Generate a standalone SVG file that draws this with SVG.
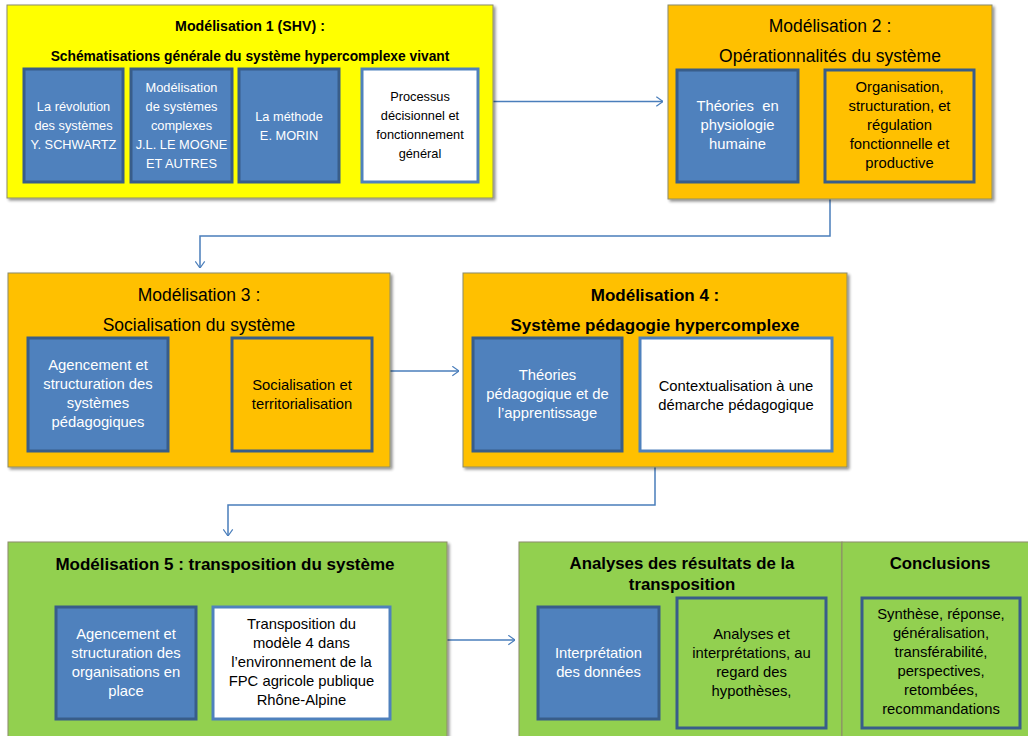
<svg xmlns="http://www.w3.org/2000/svg" width="1028" height="736" viewBox="0 0 1028 736">
<defs>
<marker id="arr" viewBox="0 0 10 14" refX="9.5" refY="7" markerWidth="8" markerHeight="11" markerUnits="userSpaceOnUse" orient="auto">
<path d="M1,1 L9.5,7 L1,13" fill="none" stroke="#4A7EBB" stroke-width="1.5"/>
</marker>
<filter id="sh" x="-5%" y="-5%" width="112%" height="112%">
<feGaussianBlur in="SourceAlpha" stdDeviation="1.5"/>
<feOffset dx="2" dy="2" result="b"/>
<feComponentTransfer><feFuncA type="linear" slope="0.45"/></feComponentTransfer>
<feMerge><feMergeNode/><feMergeNode in="SourceGraphic"/></feMerge>
</filter>
</defs>
<style>
text{font-family:"Liberation Sans",Arial,sans-serif;text-anchor:middle;fill:#000}
.outer{stroke:#8c8c6a;stroke-width:1;filter:url(#sh)}
.yel{fill:#FFFF00}
.org{fill:#FFC000}
.grn{fill:#92D050}
.blue{fill:#4F81BD;stroke:#385D8A;stroke-width:3}
.white{fill:#FFFFFF;stroke:#4F81BD;stroke-width:3}
.oin{fill:#FFC000;stroke:#385D8A;stroke-width:3}
.gin{fill:#92D050;stroke:#385D8A;stroke-width:3}
.wt{fill:#FFFFFF}
.s12{font-size:12.8px}
.s15{font-size:14.8px}
.tb{font-weight:bold}
.conn{fill:none;stroke:#4A7EBB;stroke-width:1.5}
</style>

<g id="connectors">
<path class="conn" d="M493,101.5 H663" marker-end="url(#arr)"/>
<path class="conn" d="M830,199 V236 H200 V268" marker-end="url(#arr)"/>
<path class="conn" d="M390,371 H459" marker-end="url(#arr)"/>
<path class="conn" d="M655,467 V505 H228 V536" marker-end="url(#arr)"/>
<path class="conn" d="M447,640 H515" marker-end="url(#arr)"/>
</g>

<g id="m1">
<rect class="outer yel" x="7" y="5" width="486" height="193"/>
<text class="tb" x="250" y="31" font-size="14.2">Modélisation 1 (SHV) :</text>
<text class="tb" x="250" y="61" font-size="13.8">Schématisations générale du système hypercomplexe vivant</text>
</g>
<g id="m1-revolution">
<rect class="blue" x="24" y="69" width="99" height="113"/>
<text class="s12 wt" x="73.5" y="111">La révolution</text>
<text class="s12 wt" x="73.5" y="130">des systèmes</text>
<text class="s12 wt" x="73.5" y="149">Y. SCHWARTZ</text>
</g>
<g id="m1-complexes">
<rect class="blue" x="131" y="69" width="101" height="113"/>
<text class="s12 wt" x="181.5" y="92">Modélisation</text>
<text class="s12 wt" x="181.5" y="111">de systèmes</text>
<text class="s12 wt" x="181.5" y="130">complexes</text>
<text class="s12 wt" x="181.5" y="149">J.L. LE MOGNE</text>
<text class="s12 wt" x="181.5" y="168">ET AUTRES</text>
</g>
<g id="m1-morin">
<rect class="blue" x="239" y="69" width="100" height="113"/>
<text class="s12 wt" x="289" y="121">La méthode</text>
<text class="s12 wt" x="289" y="140">E. MORIN</text>
</g>
<g id="m1-processus">
<rect class="white" x="362" y="69" width="116" height="113"/>
<text class="s12" x="420" y="101">Processus</text>
<text class="s12" x="420" y="120">décisionnel et</text>
<text class="s12" x="420" y="139">fonctionnement</text>
<text class="s12" x="420" y="158">général</text>
</g>

<g id="m2">
<rect class="outer org" x="668" y="5" width="324" height="194"/>
<text x="830" y="32" font-size="17.5">Modélisation 2 :</text>
<text x="830" y="62" font-size="17.5">Opérationnalités du système</text>
</g>
<g id="m2-theories">
<rect class="blue" x="677" y="70" width="121" height="112"/>
<text class="s15 wt" x="737.5" y="111">Théories &#160;en</text>
<text class="s15 wt" x="737.5" y="130">physiologie</text>
<text class="s15 wt" x="737.5" y="149">humaine</text>
</g>
<g id="m2-organisation">
<rect class="oin" x="825" y="70" width="149" height="112"/>
<text class="s15" x="899.5" y="92">Organisation,</text>
<text class="s15" x="899.5" y="111">structuration, et</text>
<text class="s15" x="899.5" y="130">régulation</text>
<text class="s15" x="899.5" y="149">fonctionnelle et</text>
<text class="s15" x="899.5" y="168">productive</text>
</g>

<g id="m3">
<rect class="outer org" x="8" y="273" width="382" height="194"/>
<text x="199" y="301" font-size="17.5">Modélisation 3 :</text>
<text x="199" y="331" font-size="17.5">Socialisation du système</text>
</g>
<g id="m3-agencement">
<rect class="blue" x="28" y="338" width="140" height="113"/>
<text class="s15 wt" x="98" y="370">Agencement et</text>
<text class="s15 wt" x="98" y="389">structuration des</text>
<text class="s15 wt" x="98" y="408">systèmes</text>
<text class="s15 wt" x="98" y="427">pédagogiques</text>
</g>
<g id="m3-socialisation">
<rect class="oin" x="232" y="338" width="140" height="113"/>
<text class="s15" x="302" y="390">Socialisation et</text>
<text class="s15" x="302" y="409">territorialisation</text>
</g>

<g id="m4">
<rect class="outer org" x="463" y="273" width="384" height="194"/>
<text class="tb" x="655" y="301" font-size="17">Modélisation 4 :</text>
<text class="tb" x="655" y="331" font-size="17">Système pédagogie hypercomplexe</text>
</g>
<g id="m4-theories">
<rect class="blue" x="473" y="338" width="149" height="113"/>
<text class="s15 wt" x="547.5" y="380">Théories</text>
<text class="s15 wt" x="547.5" y="399">pédagogique et de</text>
<text class="s15 wt" x="547.5" y="418">l’apprentissage</text>
</g>
<g id="m4-contextualisation">
<rect class="white" x="640" y="338" width="192" height="113"/>
<text class="s15" x="736" y="391">Contextualisation à une</text>
<text class="s15" x="736" y="410">démarche pédagogique</text>
</g>

<g id="m5">
<rect class="outer grn" x="8" y="542" width="439" height="200"/>
<text class="tb" x="225" y="570" font-size="17">Modélisation 5 : transposition du système</text>
</g>
<g id="m5-agencement">
<rect class="blue" x="56" y="607" width="140" height="112"/>
<text class="s15 wt" x="126" y="639">Agencement et</text>
<text class="s15 wt" x="126" y="658">structuration des</text>
<text class="s15 wt" x="126" y="677">organisations en</text>
<text class="s15 wt" x="126" y="696">place</text>
</g>
<g id="m5-transposition">
<rect class="white" x="213" y="607" width="177" height="112"/>
<text class="s15" x="301.5" y="629">Transposition du</text>
<text class="s15" x="301.5" y="648">modèle 4 dans</text>
<text class="s15" x="301.5" y="667">l’environnement de la</text>
<text class="s15" x="301.5" y="686">FPC agricole publique</text>
<text class="s15" x="301.5" y="705">Rhône-Alpine</text>
</g>

<g id="analyses">
<rect class="outer grn" x="519" y="542" width="323" height="200"/>
<text class="tb" x="682" y="569" font-size="16.8">Analyses des résultats de la</text>
<text class="tb" x="682" y="590" font-size="16.8">transposition</text>
</g>
<g id="analyses-interpretation">
<rect class="blue" x="538" y="607" width="121" height="112"/>
<text class="s15 wt" x="598.5" y="658">Interprétation</text>
<text class="s15 wt" x="598.5" y="677">des données</text>
</g>
<g id="analyses-hypotheses">
<rect class="gin" x="677" y="598" width="149" height="130"/>
<text class="s15" x="751.5" y="639">Analyses et</text>
<text class="s15" x="751.5" y="658">interprétations, au</text>
<text class="s15" x="751.5" y="677">regard des</text>
<text class="s15" x="751.5" y="696">hypothèses,</text>
</g>

<g id="conclusions">
<rect class="outer grn" x="842" y="542" width="190" height="200"/>
<text class="tb" x="940" y="569" font-size="16.8">Conclusions</text>
</g>
<g id="conclusions-liste">
<rect class="gin" x="862" y="598" width="158" height="130"/>
<text class="s15" x="941" y="619">Synthèse, réponse,</text>
<text class="s15" x="941" y="638">généralisation,</text>
<text class="s15" x="941" y="657">transférabilité,</text>
<text class="s15" x="941" y="676">perspectives,</text>
<text class="s15" x="941" y="695">retombées,</text>
<text class="s15" x="941" y="714">recommandations</text>
</g>
</svg>
